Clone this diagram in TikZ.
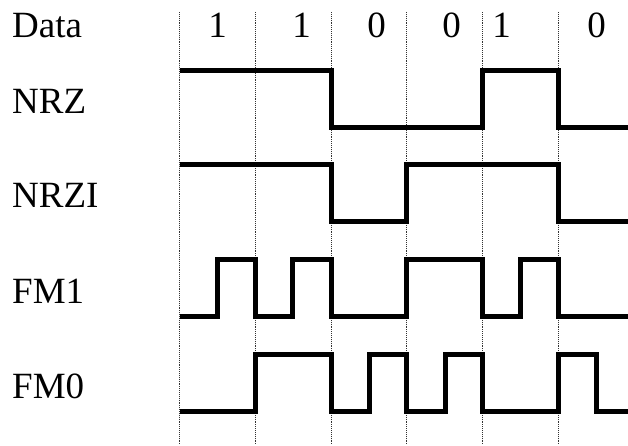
\documentclass[tikz,border=0pt]{standalone}
\usepackage{fontspec}
\setmainfont{Liberation Serif}
\begin{document}
\begin{tikzpicture}[x=1pt,y=-1pt,
  lbl/.style={anchor=base west,inner sep=0pt,font=\fontsize{37}{40}\selectfont},
  dig/.style={anchor=base,inner sep=0pt,font=\fontsize{37}{40}\selectfont},
  grid/.style={densely dotted,line width=0.9pt,black!80},
  sig/.style={line width=5pt,miter limit=10,line join=miter,line cap=butt}]
\useasboundingbox (0,0) rectangle (628,445);
\fill[white] (0,0) rectangle (628,445);
% bit boundaries
\foreach \x/\n in {179.5/a,255.3/b,331/c,406.7/d,482.3/e,558/f}
  \draw[grid] (\x,12) coordinate (top\n) -- (\x,445) coordinate (bot\n);
% labels
\node[lbl] (data) at (12,37.5) {Data};
\node[lbl] (nrz) at (12,113.5) {NRZ};
\node[lbl] (nrzi) at (12,207.5) {NRZI};
\node[lbl] (fm1) at (12,303.5) {FM1};
\node[lbl] (fm0) at (12,398.5) {FM0};
% data bits
\node[dig] (b1) at (217.5,37.5) {1};
\node[dig] (b2) at (301.7,37.5) {1};
\node[dig] (b3) at (376.7,37.5) {0};
\node[dig] (b4) at (451.7,37.5) {0};
\node[dig] (b5) at (501.7,37.5) {1};
\node[dig] (b6) at (596.7,37.5) {0};
% NRZ
\draw[sig] (179.5,70) -- (331,70) -- (331,127) -- (482.3,127) -- (482.3,70) -- (558,70) -- (558,127) -- (630,127);
% NRZI
\draw[sig] (179.5,164) -- (331,164) -- (331,221) -- (406.7,221) -- (406.7,164) -- (558,164) -- (558,221) -- (630,221);
% FM1
\draw[sig] (179.5,316) -- (217.7,316) -- (217.7,259.5) -- (255.3,259.5) -- (255.3,316) -- (292.7,316) -- (292.7,259.5) -- (331,259.5) -- (331,316) -- (406.7,316) -- (406.7,259.5) -- (482.3,259.5) -- (482.3,316) -- (520.3,316) -- (520.3,259.5) -- (558,259.5) -- (558,316) -- (630,316);
% FM0
\draw[sig] (179.5,411.5) -- (255.3,411.5) -- (255.3,354.5) -- (331,354.5) -- (331,411.5) -- (369,411.5) -- (369,354.5) -- (406.7,354.5) -- (406.7,411.5) -- (445.7,411.5) -- (445.7,354.5) -- (482.3,354.5) -- (482.3,411.5) -- (558,411.5) -- (558,354.5) -- (596.7,354.5) -- (596.7,411.5) -- (630,411.5);
\end{tikzpicture}
\end{document}
